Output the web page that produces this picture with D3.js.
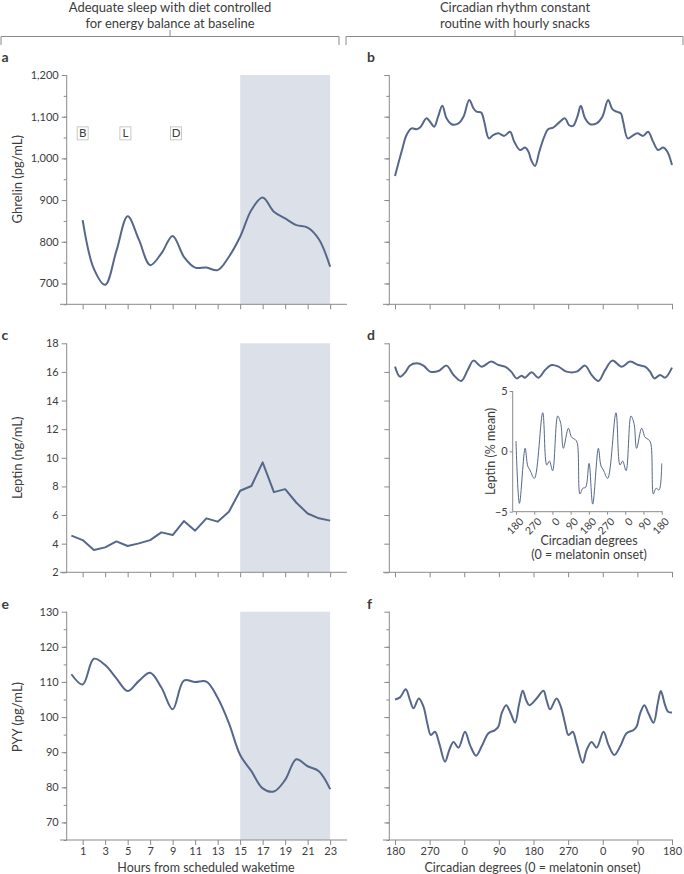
<!DOCTYPE html>
<html><head><meta charset="utf-8">
<script src="https://cdn.jsdelivr.net/npm/d3@7"></script>
<style>
body{margin:0;background:#fff;}
svg text{font-family:Lato,'Liberation Sans',sans-serif;fill:#3c3c3c;}
</style></head><body>
<svg id="chart" width="684" height="874"></svg>
<script>
// ---------------- DATA ----------------
const headers = [["Adequate sleep with diet controlled","for energy balance at baseline"],
                 ["Circadian rhythm constant","routine with hourly snacks"]];
const panelLetters = ["a","b","c","d","e","f"];

// Panel a: ghrelin, hours 1..23
const hoursA = [1,2,3,4,5,6,7,8,9,10,11,12,13,14,15,16,17,18,19,20,21,22,23];
const ghrelinA = [852,735,697,778,861,805,744,772,814,764,738,738,732,764,812,876,906,872,856,840,834,806,740];
const meals = ["B","L","D"];
const mealHours = [1,4.8,9.3];

// Panel b: ghrelin vs circadian degrees (0..720 = 180 -> 180)
const degB = [0,17,30,43,56,65,82,91,102,112,123,134,147,165,178,193,204,212,224,232,244,255,269,284,299,310,325,338,347,354,364,375,388,398,411,424,442,452,463,474,483,494,507,524,539,554,565,576,587,593,605,617,630,645,658,670,684,697,708,720];
const ghrelinB = [958,1016,1056,1072,1070,1074,1096,1088,1076,1100,1126,1096,1082,1084,1100,1140,1120,1112,1110,1088,1048,1056,1060,1054,1064,1040,1020,1026,1016,996,982,1016,1052,1070,1074,1084,1096,1080,1078,1100,1126,1096,1082,1084,1100,1140,1118,1112,1108,1088,1048,1054,1060,1054,1064,1042,1020,1026,1016,984];

// Panel c: leptin, hours 0..23
const hoursC = [0,1,2,3,4,5,6,7,8,9,10,11,12,13,14,15,16,17,18,19,20,21,22,23];
const leptinC = [4.56,4.25,3.56,3.74,4.16,3.84,4.02,4.25,4.79,4.60,5.58,4.91,5.77,5.54,6.23,7.70,8.03,9.68,7.60,7.81,6.86,6.11,5.77,5.61];

// Panel d: leptin vs circadian degrees
const degD = [0,13,26,39,56,74,91,113,134,152,172,189,204,225,250,269,286,302,316,329,338,355,373,390,407,425,446,472,494,511,529,546,565,589,611,633,650,663,674,689,702,720];
const leptinD = [16.37,15.67,15.95,16.45,16.60,16.44,16.02,16.06,16.44,15.79,15.37,16.13,16.79,16.37,16.72,16.48,16.37,16.02,15.55,15.74,15.60,15.97,15.60,16.13,16.48,16.37,16.02,16.02,16.44,15.79,15.37,16.13,16.79,16.37,16.72,16.48,16.37,16.02,15.55,15.79,15.60,16.30];

// Panel d inset: leptin % mean
const degIn = [0,17,45,58,69,91,132,152,165,181,206,221,234,259,275,292,303,316,330,344,361,379,407,420,432,453,494,514,527,544,568,583,596,621,638,654,666,679,692,707,720];
const leptinIn = [0.86,-4.31,0.25,-1.21,-1.55,-2.24,3.20,-1.13,-0.80,-1.60,2.93,2.32,0.25,1.91,1.16,0.99,0.66,-3.53,-3.06,-2.98,-1.00,-4.37,0.25,-1.21,-1.55,-2.24,3.20,-1.13,-0.80,-1.60,2.93,2.32,0.25,1.91,1.16,0.99,0.66,-3.53,-3.06,-3.20,-1.00];
const insetTicks = [5,0,-5];

// Panel e: PYY, hours 0..23
const hoursE = [0,1,2,3,4,5,6,7,8,9,10,11,12,13,14,15,16,17,18,19,20,21,22,23];
const pyyE = [112.2,109.3,116.6,114.8,111.0,107.4,110.3,112.6,108.4,102.2,110.4,110.0,110.1,105.5,98.3,89.2,84.6,79.7,78.8,82.1,88.0,86.0,84.6,79.5];

// Panel f: PYY vs circadian degrees
const degF = [0,13,28,39,48,62,74,84,93,104,115,130,141,152,165,182,195,211,225,243,260,269,277,289,301,312,323,332,341,349,368,386,394,403,420,431,442,451,462,472,488,498,511,524,542,555,570,585,602,620,628,637,648,659,672,683,691,702,710,720];
const pyyF = [105.0,105.6,107.9,104.8,102.5,105.3,103.0,98.2,94.9,95.8,92.5,87.3,90.6,92.9,91.3,95.8,92.0,89.0,91.6,95.4,96.3,97.3,101.0,103.4,101.0,98.4,103.9,107.5,104.8,103.4,105.3,107.5,104.8,102.2,105.3,103.0,98.2,94.9,95.8,92.5,87.0,90.6,92.9,91.3,95.8,92.0,89.2,91.6,95.4,96.3,97.3,101.0,103.4,101.0,98.4,103.9,107.4,103.4,101.5,101.3];

// tick labels
const hourTicks = [1,3,5,7,9,11,13,15,17,19,21,23];
const degTicks = [0,90,180,270,360,450,540,630,720];
const degLabels = ["180","270","0","90","180","270","0","90","180"];
const nightStart = 15, nightEnd = 23;
const xTitleLeft = "Hours from scheduled waketime";
const xTitleRight = "Circadian degrees (0 = melatonin onset)";
const insetXTitle = ["Circadian degrees","(0 = melatonin onset)"];

// ---------------- DRAW ----------------
const svg = d3.select("#chart");
const LINE = "#56678a", SHADE = "#dce1e9", AX = "#8a8a8a";

const xH = d3.scaleLinear().domain([0,24]).range([71.4,341.4]);
const xD = d3.scaleLinear().domain([0,720]).range([395,672]);
const leftX = 66.7, rightX = 389.3;

const rows = [
  {y: d3.scaleLinear().domain([650,1200]).range([304.3,75]), major: d3.range(700,1201,100), minor: d3.range(650,1200,50), fmt: d3.format(","), title:"Ghrelin (pg/mL)", mid:950},
  {y: d3.scaleLinear().domain([2,18]).range([572.3,343.3]), major: d3.range(2,19,2), minor: [], fmt: d3.format("d"), title:"Leptin (ng/mL)", mid:10},
  {y: d3.scaleLinear().domain([65,130]).range([840,611.7]), major: d3.range(70,131,10), minor: d3.range(65,130,5), fmt: d3.format("d"), title:"PYY (pg/mL)", mid:100}
];

// headers and brackets
[[0,170,1,339],[1,515,346,683]].forEach(([i,cx,x0,x1])=>{
  svg.append("text").attr("x",cx).attr("y",12).attr("text-anchor","middle").style("font-size","13px").text(headers[i][0]);
  svg.append("text").attr("x",cx).attr("y",27.5).attr("text-anchor","middle").style("font-size","13px").text(headers[i][1]);
  svg.append("path").attr("d",`M${x0},45V36.5H${x1}V45M${cx},36.5V30`).attr("fill","none").attr("stroke",AX).attr("stroke-width",1);
});

function yAxis(row, x, labels){
  const gMin = svg.append("g").attr("transform",`translate(${x},0)`)
    .call(d3.axisLeft(row.y).tickValues(row.minor).tickSize(3).tickFormat(""));
  const g = svg.append("g").attr("transform",`translate(${x},0)`)
    .call(d3.axisLeft(row.y).tickValues(row.major).tickSize(5).tickPadding(3).tickFormat(labels?row.fmt:""));
  [g,gMin].forEach(gg=>{gg.select(".domain").remove(); gg.selectAll("line").attr("stroke",AX); gg.selectAll("text").style("font-size","11px").attr("fill","#3c3c3c");});
  svg.append("line").attr("x1",x).attr("x2",x).attr("y1",row.y.range()[1]).attr("y2",row.y.range()[0]).attr("stroke",AX);
}
function xAxis(scale, ticks, y, x0, x1, labels, fmt){
  const g = svg.append("g").attr("transform",`translate(0,${y})`)
    .call(d3.axisBottom(scale).tickValues(ticks).tickSize(5).tickPadding(2).tickFormat(labels?fmt:""));
  g.select(".domain").remove();
  g.selectAll("line").attr("stroke",AX);
  g.selectAll("text").style("font-size","11px").attr("fill","#3c3c3c");
  svg.append("line").attr("x1",x0).attr("x2",x1).attr("y1",y).attr("y2",y).attr("stroke",AX);
}

const seriesLeft = [[hoursA,ghrelinA,d3.curveCatmullRom],[hoursC,leptinC,d3.curveLinear],[hoursE,pyyE,d3.curveCatmullRom]];
const seriesRight = [[degB,ghrelinB],[degD,leptinD],[degF,pyyF]];
const letterY = [62,340,608.5];

rows.forEach((row,i)=>{
  const y0 = row.y.range()[0], y1 = row.y.range()[1];
  // shaded sleep period
  svg.append("rect").attr("x",xH(nightStart)).attr("width",xH(nightEnd)-xH(nightStart))
    .attr("y",y1).attr("height",y0-y1).attr("fill",SHADE);
  yAxis(row,leftX,true);
  yAxis(row,rightX,false);
  xAxis(xH,hourTicks,y0,60,347,i===2,d3.format("d"));
  xAxis(xD,degTicks,y0,383,673,i===2,(d,k)=>degLabels[k]);
  // y titles
  svg.append("text").attr("transform",`translate(22,${row.y(row.mid)}) rotate(-90)`).attr("text-anchor","middle").style("font-size","13px").text(row.title);
  // letters
  svg.append("text").attr("x",1.5).attr("y",letterY[i]).style("font-size","14px").style("font-weight","bold").attr("fill","#111").text(panelLetters[i*2]);
  svg.append("text").attr("x",367).attr("y",letterY[i]).style("font-size","14px").style("font-weight","bold").attr("fill","#111").text(panelLetters[i*2+1]);
  // lines
  const [hx,hv,cv] = seriesLeft[i];
  svg.append("path").datum(hx.map((h,k)=>[h,hv[k]]))
    .attr("d",d3.line().x(d=>xH(d[0])).y(d=>row.y(d[1])).curve(cv))
    .attr("fill","none").attr("stroke",LINE).attr("stroke-width",2).attr("stroke-linejoin","round");
  const [dx,dv] = seriesRight[i];
  svg.append("path").datum(dx.map((h,k)=>[h,dv[k]]))
    .attr("d",d3.line().x(d=>xD(d[0])).y(d=>row.y(d[1])).curve(d3.curveCatmullRom))
    .attr("fill","none").attr("stroke",LINE).attr("stroke-width",2);
});

// meal markers
mealHours.forEach((h,k)=>{
  const cx = xH(h), cy = rows[0].y(1060);
  svg.append("rect").attr("x",cx-5.5).attr("y",cy-6.5).attr("width",11).attr("height",13).attr("fill","#fff").attr("stroke","#bbb").attr("stroke-width",0.8);
  svg.append("text").attr("x",cx).attr("y",cy+4).attr("text-anchor","middle").style("font-size","11.5px").attr("fill","#555").text(meals[k]);
});

// x titles
svg.append("text").attr("x",206).attr("y",872).attr("text-anchor","middle").style("font-size","12.5px").text(xTitleLeft);
svg.append("text").attr("x",532.5).attr("y",872).attr("text-anchor","middle").style("font-size","12.5px").text(xTitleRight);

// inset
const xI = d3.scaleLinear().domain([0,720]).range([516,661.7]);
const yI = d3.scaleLinear().domain([-5,5]).range([511.7,391]);
const gi = svg.append("g").attr("transform","translate(512.7,0)")
  .call(d3.axisLeft(yI).tickValues(insetTicks).tickSize(3).tickPadding(2).tickFormat(d3.format("d")));
gi.select(".domain").remove();
gi.selectAll("line").attr("stroke",AX);
gi.selectAll("text").style("font-size","11px").attr("fill","#3c3c3c").text(d=>d<0?"\u22125":d);
svg.append("line").attr("x1",512.7).attr("x2",512.7).attr("y1",391).attr("y2",511.7).attr("stroke",AX);
svg.append("line").attr("x1",512.7).attr("x2",662.7).attr("y1",511.7).attr("y2",511.7).attr("stroke",AX);
const gx = svg.append("g").attr("transform","translate(0,511.7)")
  .call(d3.axisBottom(xI).tickValues(degTicks).tickSize(3).tickFormat(""));
gx.select(".domain").remove();
gx.selectAll("line").attr("stroke",AX);
degTicks.forEach((t,k)=>{
  svg.append("text").attr("transform",`translate(${xI(t)+3},${517}) rotate(-45)`).attr("text-anchor","end")
    .attr("dy","0.7em").style("font-size","10.5px").text(degLabels[k]);
});
svg.append("text").attr("x",589).attr("y",545).attr("text-anchor","middle").style("font-size","12.5px").text(insetXTitle[0]);
svg.append("text").attr("x",589).attr("y",558.5).attr("text-anchor","middle").style("font-size","12.5px").text(insetXTitle[1]);
svg.append("text").attr("transform",`translate(495,${yI(0)}) rotate(-90)`).attr("text-anchor","middle").style("font-size","12.5px").text("Leptin (% mean)");
svg.append("path").datum(degIn.map((d,k)=>[d,leptinIn[k]]))
  .attr("d",d3.line().x(d=>xI(d[0])).y(d=>yI(d[1])).curve(d3.curveCatmullRom))
  .attr("fill","none").attr("stroke",LINE).attr("stroke-width",1);
</script></body></html>
